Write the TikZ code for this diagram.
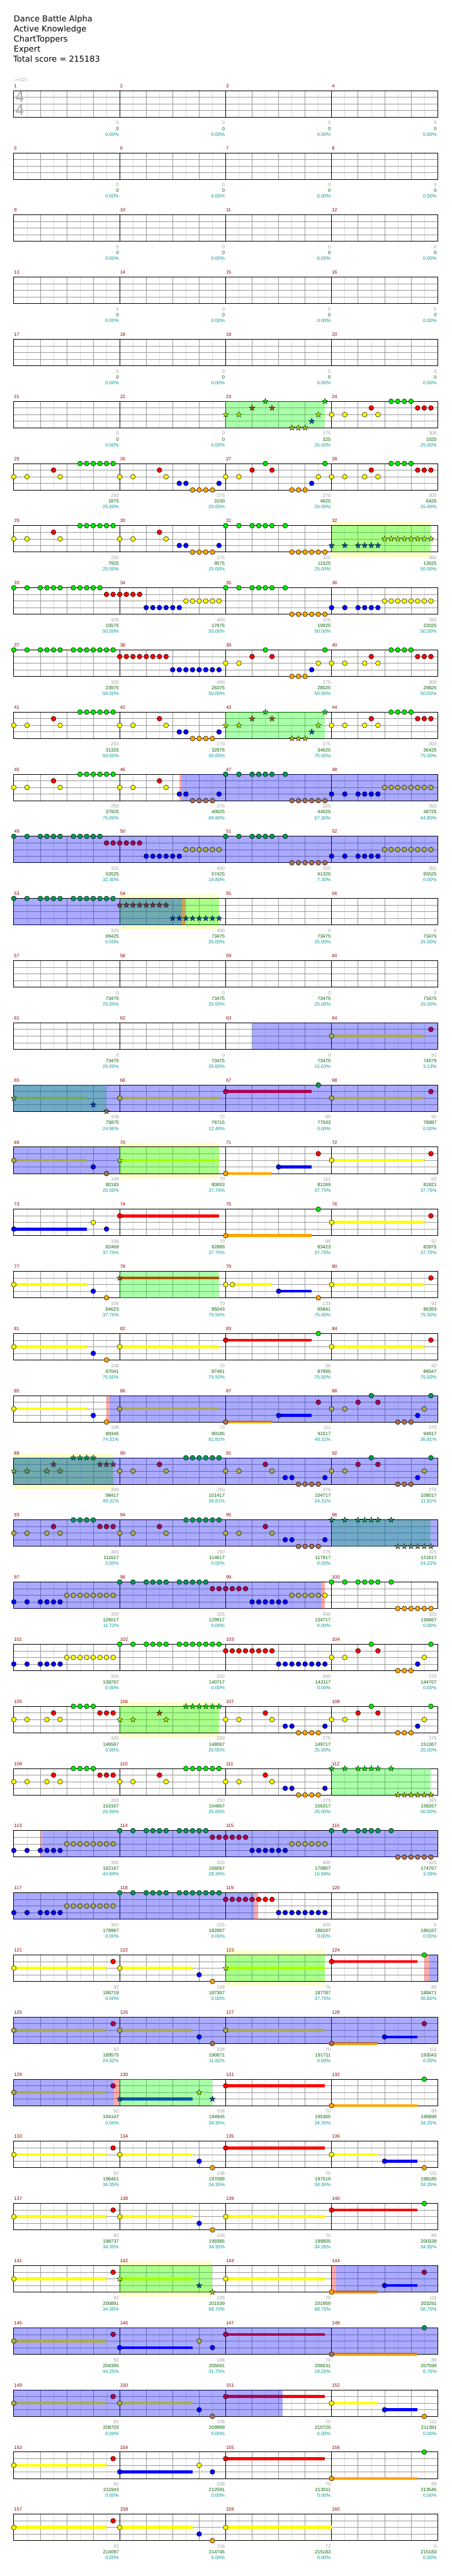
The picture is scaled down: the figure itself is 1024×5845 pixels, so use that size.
\documentclass[tikz,border=0pt]{standalone}
\usepackage{fontspec}
\newfontfamily\titlefont{DejaVu Sans}
\newfontfamily\numfont{Liberation Sans}
\pgfdeclarelayer{ybg}\pgfdeclarelayer{grid}\pgfdeclarelayer{sus}\pgfdeclarelayer{ovl}
\pgfsetlayers{ybg,grid,sus,ovl,main}
\definecolor{L0}{RGB}{0,230,0}
\definecolor{L1}{RGB}{255,0,0}
\definecolor{L2}{RGB}{255,255,0}
\definecolor{L3}{RGB}{0,0,255}
\definecolor{L4}{RGB}{255,165,0}
\colorlet{L0n}{L0}\colorlet{L1n}{L1}\colorlet{L2n}{L2}\colorlet{L3n}{L3}\colorlet{L4n}{L4}
\colorlet{L0b}{L0!67!blue}\colorlet{L1b}{L1!67!blue}\colorlet{L2b}{L2!67!blue}\colorlet{L3b}{L3!67!blue}\colorlet{L4b}{L4!67!blue}
\colorlet{L0g}{L0!67!green}\colorlet{L1g}{L1!67!green}\colorlet{L2g}{L2!67!green}\colorlet{L3g}{L3!67!green}\colorlet{L4g}{L4!67!green}
\colorlet{L0t}{L0g!67!blue}\colorlet{L1t}{L1g!67!blue}\colorlet{L2t}{L2g!67!blue}\colorlet{L3t}{L3g!67!blue}\colorlet{L4t}{L4g!67!blue}
\definecolor{mnum}{RGB}{150,0,0}
\definecolor{sgray}{RGB}{160,160,160}
\definecolor{sgreen}{RGB}{0,100,0}
\definecolor{steal}{RGB}{0,153,153}
\definecolor{lgrid}{RGB}{221,221,221}
\definecolor{mgrid}{RGB}{153,153,153}
\definecolor{ybgc}{RGB}{255,255,204}
\definecolor{tsig}{RGB}{170,170,170}
% patterns: pos(16ths)/lane
\def\PA{0/2,2/2,6/1,7/2,10/0,11/0,12/0,13/0,14/0,15/0}
\def\PB{0/2,2/2,6/1,7/2,9/3,10/3,11/4,12/4,13/4,14/4,15/3}
\def\PC{0/2,2/2,4/1,6/0,7/1,10/4,11/4,12/4,13/3,14/2,15/0}
\def\PD{0/2,2/2,5/2,6/1,7/2,9/0,10/0,11/0,12/0,13/1,14/1,15/1}
\def\PE{0/0,2/0,4/0,5/0,6/0,7/0,9/0,10/4,11/4,12/4,13/4,14/4,15/4}
\def\PF{0/3,2/3,4/3,5/3,6/3,7/3,8/2,9/2,10/2,11/2,12/2,13/2,14/2,15/2}
\def\PGa{0/0,2/0,4/0,5/0,6/0,7/0,9/0,10/0,11/0,12/0,13/0,14/1,15/1}
\def\PGb{0/1,1/1,2/1,3/1,4/3,5/3,6/3,7/3,8/3,9/3,10/2,11/2,12/2,13/2,14/2,15/2}
\def\PHa{0/0,2/0,4/0,5/0,6/0,7/0,9/0,10/0,11/0,12/0,13/0,14/0,15/0}
\def\PHb{0/1,1/1,2/1,3/1,4/1,5/1,6/1,7/1,8/3,9/3,10/3,11/3,12/3,13/3,14/3,15/3}
% sustain: measure, pos, lane, end
\newcommand\su[4]{%
 \pgfmathsetmacro\sbx{31.3+mod(#1-1,4)*240.1}%
 \pgfmathsetmacro\sty{205.7+floor((#1-1)/4)*141+#3*15}%
 \begin{pgfonlayer}{sus}\draw[line width=6.5pt,L#3] (\sbx+#2*15.00625,\sty) -- (\sbx+#4*15.00625,\sty);\end{pgfonlayer}}
% notes: measure, tint, shape, list
\newcommand\notesgen[4]{%
 \pgfmathsetmacro\nbx{31.3+mod(#1-1,4)*240.1}%
 \pgfmathsetmacro\nty{205.7+floor((#1-1)/4)*141}%
 \edef\nlist{#4}%
 \foreach \npos/\nlane in \nlist {%
   \pgfmathsetmacro\nx{\nbx+\npos*15.00625}%
   \pgfmathsetmacro\ny{\nty+\nlane*15}%
   \if#3c\draw[fill=L\nlane#2,line width=0.7pt] (\nx,\ny) circle[radius=5.5pt];%
   \else\draw[fill=L\nlane#2,line width=0.5pt,shift={(\nx,\ny)}] (90:6.8pt) -- (126:2.7pt) -- (162:6.8pt) -- (198:2.7pt) -- (234:6.8pt) -- (270:2.7pt) -- (306:6.8pt) -- (342:2.7pt) -- (18:6.8pt) -- (54:2.7pt) -- cycle;\fi
 }}
\newcommand\nt[3]{\notesgen{#1}{#2}{c}{#3}}
\newcommand\ns[3]{\notesgen{#1}{#2}{s}{#3}}
% overlays: colour, m1, p1, m2, p2 (same row)
\newcommand\ovl[5]{%
 \pgfmathsetmacro\oxa{31.3+mod(#2-1,4)*240.1+#3*15.00625}%
 \pgfmathsetmacro\oxb{31.3+mod(#4-1,4)*240.1+#5*15.00625}%
 \pgfmathsetmacro\oty{205.7+floor((#2-1)/4)*141}%
 \begin{pgfonlayer}{ovl}\fill[#1,opacity=0.3333] (\oxa,\oty) rectangle (\oxb,\oty+60);\end{pgfonlayer}}
\newcommand\ybg[3]{%
 \pgfmathsetmacro\oxa{31.3+mod(#1-1,4)*240.1+#2*15.00625}%
 \pgfmathsetmacro\oxb{31.3+mod(#1-1,4)*240.1+#3*15.00625}%
 \pgfmathsetmacro\oty{205.7+floor((#1-1)/4)*141}%
 \begin{pgfonlayer}{ybg}\fill[ybgc] (\oxa,\oty-10) rectangle (\oxb,\oty+71);\end{pgfonlayer}}
% compound measures
\newcommand\pYR[2]{\su{#1}{0}{2}{14}\nt{#1}{#2}{0/2,15/1}}
\newcommand\pYBO[2]{\su{#1}{0}{2}{11}\nt{#1}{#2}{0/2,12/3,14/4}}
\newcommand\pBYB[2]{\su{#1}{0}{3}{11}\nt{#1}{#2}{0/3,12/2,14/3}}
\newcommand\pY[2]{\su{#1}{0}{2}{15}\nt{#1}{#2}{0/2}}
\newcommand\pR[2]{\su{#1}{0}{1}{15}\nt{#1}{#2}{0/1}}
\newcommand\pRG[2]{\su{#1}{0}{1}{13}\nt{#1}{#2}{0/1,14/0}}
\newcommand\pOG[2]{\su{#1}{0}{4}{13}\nt{#1}{#2}{0/4,14/0}}
\newcommand\pOBR[2]{\su{#1}{0}{4}{7}\su{#1}{8}{3}{13}\nt{#1}{#2}{0/4,8/3,14/1}}
\newcommand\pYBOs[2]{\su{#1}{0}{2}{7}\su{#1}{8}{3}{13}\nt{#1}{#2}{0/2,8/3,14/4}}
\tikzset{
 numtxt/.style={inner sep=0pt,font=\numfont\fontsize{10.8}{12}\selectfont},
 titletxt/.style={inner sep=0pt,anchor=base west,font=\titlefont\fontsize{18.5}{22}\selectfont},
}
\begin{document}
\begin{tikzpicture}[x=1pt,y=-1pt]
\begin{pgfonlayer}{ybg}
\fill[white] (0,0) rectangle (1024,5845);
\end{pgfonlayer}
\useasboundingbox (0,0) rectangle (1024,5845);
% title
\node[titletxt] (t1) at (31,49.2) {Dance Battle Alpha};
\node[titletxt] (t2) at (31,72.2) {Active Knowledge};
\node[titletxt] (t3) at (31,95.2) {ChartToppers};
\node[titletxt] (t4) at (31,118.2) {Expert};
\node[titletxt] (t5) at (30,141.2) {Total score = 215183};
\node[inner sep=0pt,anchor=base west,text=sgray,font=\titlefont\fontsize{9.5}{10}\selectfont] (tempo) at (31,185) {♩=125};
\node[inner sep=0pt,text=tsig,font=\titlefont\fontsize{33}{33}\selectfont] (ts1) at (45,220.3) {4};
\node[inner sep=0pt,text=tsig,font=\titlefont\fontsize{33}{33}\selectfont] (ts2) at (45,250.3) {4};
% grid
\begin{pgfonlayer}{grid}
\foreach \r in {0,...,39}{
 \pgfmathsetmacro\rowT{205.7+141*\r}
 \foreach \k in {1,3,...,31} \draw[lgrid,line width=0.8pt] (31.3+\k*30.0125,\rowT) -- ++(0,60);
 \foreach \j in {1,2,3} \draw[mgrid,line width=0.9pt] (31.3,\rowT+\j*15) -- (991.7,\rowT+\j*15);
 \foreach \k in {2,4,6,10,12,14,18,20,22,26,28,30} \draw[mgrid,line width=0.8pt] (31.3+\k*30.0125,\rowT) -- ++(0,60);
 \foreach \k in {8,16,24} \draw[black,line width=0.8pt] (31.3+\k*30.0125,\rowT) -- ++(0,60);
 \draw[black,line width=1.3pt] (31.3,\rowT) rectangle (991.7,\rowT+60);
}
\end{pgfonlayer}
% measure numbers
\foreach \m in {1,...,160}{
 \pgfmathtruncatemacro\rr{(\m-1)/4}
 \pgfmathsetmacro\mxx{31.3+mod(\m-1,4)*240.1}
 \pgfmathsetmacro\myy{205.7+141*\rr}
 \node[numtxt,anchor=base west,text=mnum] (mn\m) at (\mxx+0.6,\myy-7) {\m};
}
% scores
\foreach \m/\vs/\vg/\vp in {1/0/0/0.00,2/0/0/0.00,3/0/0/0.00,4/0/0/0.00,5/0/0/0.00,6/0/0/0.00,7/0/0/0.00,8/0/0/0.00,9/0/0/0.00,10/0/0/0.00,11/0/0/0.00,12/0/0/0.00,13/0/0/0.00,14/0/0/0.00,15/0/0/0.00,16/0/0/0.00,17/0/0/0.00,18/0/0/0.00,19/0/0/0.00,20/0/0/0.00,%
21/0/0/0.00,22/0/0/0.00,23/275/325/25.00,24/300/1025/25.00,%
25/250/1875/25.00,26/275/3100/25.00,27/275/4625/25.00,28/300/6425/25.00,%
29/250/7925/25.00,30/275/9575/25.00,31/325/11525/25.00,32/350/13625/50.00,%
33/325/15575/50.00,34/400/17975/50.00,35/325/19925/50.00,36/350/22025/50.00,%
37/325/23975/50.00,38/400/26375/50.00,39/275/28025/50.00,40/300/29825/50.00,%
41/250/31325/50.00,42/275/32975/50.00,43/275/34625/75.00,44/300/36425/75.00,%
45/250/37925/75.00,46/275/40625/69.80,47/325/44525/57.30,48/350/48725/44.80,%
49/325/52625/32.30,50/400/57425/19.80,51/325/61325/7.30,52/350/65525/0.00,%
53/325/69425/0.00,54/400/73475/25.00,55/0/73475/25.00,56/0/73475/25.00,%
57/0/73475/25.00,58/0/73475/25.00,59/0/73475/25.00,60/0/73475/25.00,%
61/0/73475/25.00,62/0/73475/25.00,63/0/73475/15.63,64/92/74579/3.13,%
65/108/75875/24.96,66/70/76715/12.48,67/89/77933/0.00,68/92/78887/0.00,%
69/108/80183/25.00,70/70/80603/37.75,71/111/81269/37.75,72/92/81821/37.75,%
73/108/82469/37.75,74/70/82889/37.75,75/89/83423/37.75,76/92/83975/37.75,%
77/108/84623/37.75,78/70/85043/75.50,79/133/85841/75.50,80/92/86393/75.50,%
81/108/87041/75.50,82/70/87461/75.50,83/89/87995/75.50,84/92/88547/75.50,%
85/108/89345/74.31,86/70/90185/61.81,87/111/91517/49.31,88/275/94817/36.81,%
89/300/98417/49.31,90/250/101417/36.81,91/275/104717/24.31,92/275/108017/11.81,%
93/300/111617/0.00,94/250/114617/0.00,95/275/117917/0.00,96/325/121817/24.22,%
97/350/126017/11.72,98/325/129917/0.00,99/400/134717/0.00,100/325/136667/0.00,%
101/350/138767/0.00,102/325/140717/0.00,103/400/143117/0.00,104/275/144767/0.00,%
105/300/146567/0.00,106/250/148067/25.00,107/275/149717/25.00,108/275/151367/25.00,%
109/300/153167/25.00,110/250/154667/25.00,111/275/156317/25.00,112/325/158267/50.00,%
113/350/162167/40.89,114/325/166067/28.39,115/400/170867/15.89,116/325/174767/3.39,%
117/350/178967/0.00,118/325/182867/0.00,119/400/186167/0.00,120/0/186167/0.00,%
121/92/186719/0.00,122/108/187367/0.00,123/70/187787/37.75,124/89/188471/36.82,%
125/92/189575/24.32,126/108/190871/11.82,127/70/191711/0.00,128/111/193043/0.00,%
129/92/194147/0.00,130/108/194945/34.35,131/70/195365/34.35,132/89/195899/34.35,%
133/92/196451/34.35,134/108/197099/34.35,135/70/197519/34.35,136/111/198185/34.35,%
137/92/198737/34.35,138/108/199385/34.35,139/70/199805/34.35,140/89/200339/34.35,%
141/92/200891/34.35,142/108/201539/68.70,143/70/201959/68.70,144/111/203291/56.75,%
145/92/204395/44.25,146/108/205691/31.75,147/70/206531/19.25,148/89/207599/6.75,%
149/92/208703/0.00,150/108/209999/0.00,151/70/210725/0.00,152/111/211391/0.00,%
153/92/211943/0.00,154/108/212591/0.00,155/70/213011/0.00,156/89/213545/0.00,%
157/92/214097/0.00,158/108/214745/0.00,159/73/215183/0.00,160/0/215183/0.00}{
 \pgfmathtruncatemacro\rr{(\m-1)/4}
 \pgfmathsetmacro\exx{31.3+(mod(\m-1,4)+1)*240.1-1.7}
 \pgfmathsetmacro\myy{205.7+141*\rr}
 \node[numtxt,anchor=base east,text=sgray] (sg\m) at (\exx,\myy+76.7) {\vs};
 \node[numtxt,anchor=base east,text=sgreen] (sc\m) at (\exx,\myy+89.7) {\vg};
 \node[numtxt,anchor=base east,text=steal] (sp\m) at (\exx,\myy+102.7) {\vp\%};
}
% yellow backgrounds
\ybg{32}{0}{15}\ybg{54}{0}{15}\ybg{70}{0}{15}\ybg{89}{0}{15}\ybg{106}{0}{15}\ybg{123}{0}{15}\ybg{142}{0}{14}
% star power phrases (drawn first so that blue lies over them)
\ovl{green}{23}{0}{23}{15}\ovl{green}{32}{0}{32}{15}\ovl{green}{43}{0}{43}{15}\ovl{green}{54}{0}{54}{15}
\ovl{green}{65}{0}{65}{14}\ovl{green}{70}{0}{70}{15}\ovl{green}{78}{0}{78}{15}\ovl{green}{89}{0}{89}{15}
\ovl{green}{96}{0}{96}{15}\ovl{green}{106}{0}{106}{15}\ovl{green}{112}{0}{112}{15}\ovl{green}{123}{0}{123}{15}
\ovl{green}{130}{0}{130}{14}\ovl{green}{142}{0}{142}{14}
% blue regions
\ovl{blue}{46}{9.27}{48}{16}\ovl{blue}{49}{0}{52}{16}\ovl{blue}{53}{0}{54}{9.36}
\ovl{blue}{63}{4}{64}{16}\ovl{blue}{65}{0}{68}{16}\ovl{blue}{69}{0}{69}{16}
\ovl{blue}{85}{14.45}{88}{16}\ovl{blue}{89}{0}{92}{16}\ovl{blue}{93}{0}{96}{16}\ovl{blue}{97}{0}{99}{14.48}
\ovl{blue}{113}{4.3}{116}{16}\ovl{blue}{117}{0}{119}{4.3}
\ovl{blue}{124}{14.8}{124}{16}\ovl{blue}{125}{0}{128}{16}\ovl{blue}{129}{0}{129}{15.1}
\ovl{blue}{144}{0.65}{144}{16}\ovl{blue}{145}{0}{148}{16}\ovl{blue}{149}{0}{151}{8.6}
% red strips
\ovl{red}{46}{9}{46}{9.27}\ovl{red}{54}{9.36}{54}{10}\ovl{red}{85}{14}{85}{14.45}
\ovl{red}{99}{14.48}{99}{15}\ovl{red}{113}{4}{113}{4.3}\ovl{red}{119}{4.3}{119}{4.9}
\ovl{red}{124}{14}{124}{14.8}\ovl{red}{129}{15.1}{129}{16}\ovl{red}{144}{0}{144}{0.65}
% notes
\ns{23}{g}{\PC}\nt{24}{n}{\PD}
\nt{25}{n}{\PA}\nt{26}{n}{\PB}\nt{27}{n}{\PC}\nt{28}{n}{\PD}
\nt{29}{n}{\PA}\nt{30}{n}{\PB}\nt{31}{n}{\PE}\ns{32}{g}{\PF}
\nt{33}{n}{\PGa}\nt{34}{n}{\PGb}\nt{35}{n}{\PE}\nt{36}{n}{\PF}
\nt{37}{n}{\PHa}\nt{38}{n}{\PHb}\nt{39}{n}{\PC}\nt{40}{n}{\PD}
\nt{41}{n}{\PA}\nt{42}{n}{\PB}\ns{43}{g}{\PC}\nt{44}{n}{\PD}
\nt{45}{n}{\PA}\nt{46}{n}{0/2,2/2,6/1,7/2,9/3}\nt{46}{b}{10/3,11/4,12/4,13/4,14/4,15/3}\nt{47}{b}{\PE}\nt{48}{b}{\PF}
\nt{49}{b}{\PGa}\nt{50}{b}{\PGb}\nt{51}{b}{\PE}\nt{52}{b}{\PF}
\nt{53}{b}{\PHa}\ns{54}{t}{0/1,1/1,2/1,3/1,4/1,5/1,6/1,7/1,8/3,9/3}\ns{54}{g}{10/3,11/3,12/3,13/3,14/3,15/3}
\pYR{64}{b}
\su{65}{0}{2}{11}\ns{65}{t}{0/2,12/3,14/4}\pY{66}{b}\pRG{67}{b}\pYR{68}{b}
\pYBO{69}{b}\su{70}{0}{2}{15}\ns{70}{g}{0/2}\pOBR{71}{n}\pYR{72}{n}
\pBYB{73}{n}\pR{74}{n}\pOG{75}{n}\pYR{76}{n}
\pYBO{77}{n}\su{78}{0}{1}{15}\ns{78}{g}{0/1}\su{79}{1}{2}{7}\su{79}{8}{3}{13}\nt{79}{n}{0/2,1/2,8/3,14/4}\pYR{80}{n}
\pYBO{81}{n}\pY{82}{n}\pRG{83}{n}\pYR{84}{n}
\pYBO{85}{n}\pY{86}{b}\pOBR{87}{b}\nt{88}{b}{\PC}
\ns{89}{t}{\PD}\nt{90}{b}{\PA}\nt{91}{b}{\PB}\nt{92}{b}{\PC}
\nt{93}{b}{\PD}\nt{94}{b}{\PA}\nt{95}{b}{\PB}\ns{96}{t}{\PE}
\nt{97}{b}{\PF}\nt{98}{b}{\PGa}\nt{99}{b}{0/1,1/1,2/1,3/1,4/3,5/3,6/3,7/3,8/3,9/3,10/2,11/2,12/2,13/2,14/2}\nt{99}{n}{15/2}\nt{100}{n}{\PE}
\nt{101}{n}{\PF}\nt{102}{n}{\PHa}\nt{103}{n}{\PHb}\nt{104}{n}{\PC}
\nt{105}{n}{\PD}\ns{106}{g}{\PA}\nt{107}{n}{\PB}\nt{108}{n}{\PC}
\nt{109}{n}{\PD}\nt{110}{n}{\PA}\nt{111}{n}{\PB}\ns{112}{g}{\PE}
\nt{113}{n}{0/3,2/3,4/3}\nt{113}{b}{5/3,6/3,7/3,8/2,9/2,10/2,11/2,12/2,13/2,14/2,15/2}\nt{114}{b}{\PGa}\nt{115}{b}{\PGb}\nt{116}{b}{\PE}
\nt{117}{b}{\PF}\nt{118}{b}{\PHa}\nt{119}{b}{0/1,1/1,2/1,3/1,4/1}\nt{119}{n}{5/1,6/1,7/1,8/3,9/3,10/3,11/3,12/3,13/3,14/3,15/3}
\pYR{121}{n}\pYBO{122}{n}\su{123}{0}{2}{15}\ns{123}{g}{0/2}\pRG{124}{n}
\pYR{125}{b}\pYBO{126}{b}\pY{127}{b}\pOBR{128}{b}
\pYR{129}{b}\su{130}{0}{3}{11}\ns{130}{g}{0/3,12/2,14/3}\pR{131}{n}\pOG{132}{n}
\pYR{133}{n}\pYBO{134}{n}\pR{135}{n}\pYBOs{136}{n}
\pYR{137}{n}\pYBO{138}{n}\pY{139}{n}\pRG{140}{n}
\pYR{141}{n}\su{142}{0}{2}{11}\ns{142}{g}{0/2,12/3,14/4}\pY{143}{n}\su{144}{0}{4}{7}\su{144}{8}{3}{13}\nt{144}{n}{0/4}\nt{144}{b}{8/3,14/1}
\pYR{145}{b}\pBYB{146}{b}\pR{147}{b}\pOG{148}{b}
\pYR{149}{b}\pYBO{150}{b}\pR{151}{b}\pYBOs{152}{n}
\pYR{153}{n}\pBYB{154}{n}\pR{155}{n}\pOG{156}{n}
\pYR{157}{n}\pYBO{158}{n}\su{159}{0}{2}{16}\nt{159}{n}{0/2}
\end{tikzpicture}
\end{document}
